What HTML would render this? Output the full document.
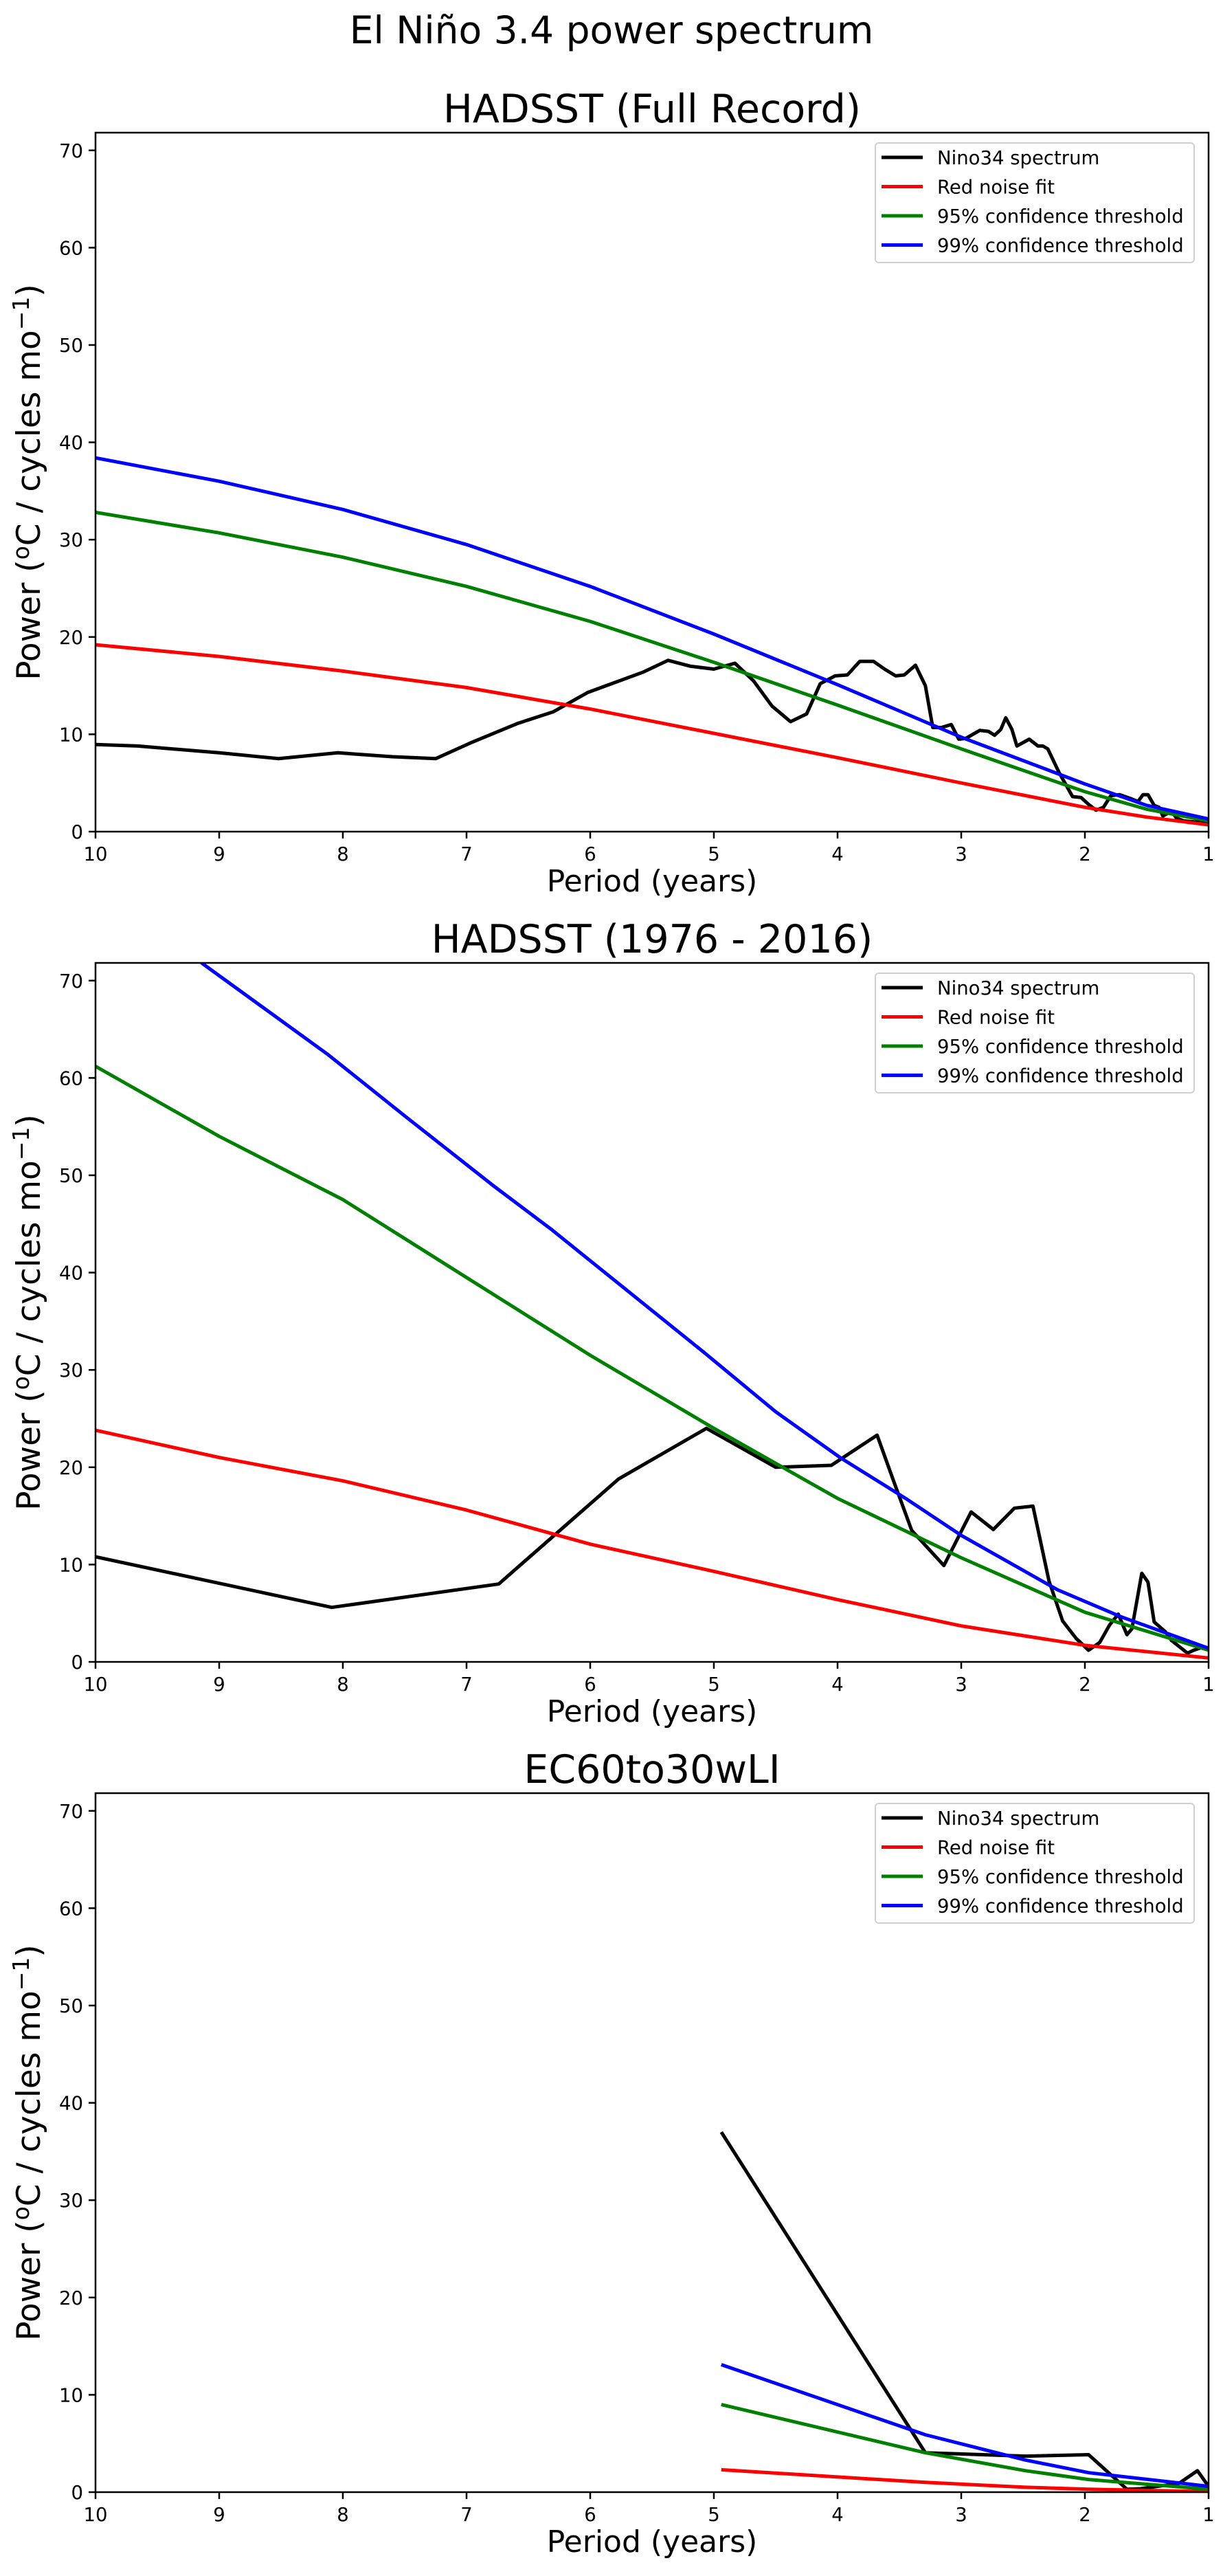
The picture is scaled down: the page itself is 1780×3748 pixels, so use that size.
<!DOCTYPE html>
<html><head><meta charset="utf-8"><style>
html,body{margin:0;padding:0;background:#fff;}
svg{display:block;font-family:"DejaVu Sans","Liberation Sans",sans-serif;}
</style></head><body>
<svg id="fig" xmlns="http://www.w3.org/2000/svg" width="1780" height="3748" viewBox="0 0 1780 3748">
<text x="890" y="63" font-size="55" text-anchor="middle">El Niño 3.4 power spectrum</text>
</svg>
<script>
// ---- data ----
const panelTitles = ["HADSST (Full Record)", "HADSST (1976 - 2016)", "EC60to30wLI"];
const xTicks = [10,9,8,7,6,5,4,3,2,1];
const yTicks = [0,10,20,30,40,50,60,70];
const legendLabels = ["Nino34 spectrum","Red noise fit","95% confidence threshold","99% confidence threshold"];
const seriesColors = ["#000000","#ff0000","#008000","#0000ff"];

// Panel 1
const p1SpecPeriod = [10,9.66,9.0,8.52,8.04,7.6,7.25,6.97,6.59,6.30,6.02,5.57,5.37,5.19,5.0,4.83,4.68,4.53,4.38,4.25,4.14,4.08,4.02,3.92,3.82,3.71,3.62,3.53,3.46,3.37,3.29,3.23,3.16,3.08,3.02,2.96,2.85,2.78,2.73,2.68,2.64,2.59,2.55,2.45,2.38,2.34,2.30,2.21,2.10,2.03,1.97,1.91,1.85,1.79,1.72,1.63,1.57,1.53,1.49,1.44,1.40,1.37,1.30,1.26,1.20,1.12,1.0];
const p1SpecPower = [8.95,8.8,8.1,7.5,8.1,7.7,7.5,9.1,11.1,12.3,14.3,16.4,17.6,17.0,16.7,17.3,15.5,12.9,11.3,12.1,15.2,15.6,16.0,16.1,17.5,17.5,16.7,16.0,16.1,17.1,15.0,10.7,10.7,11.0,9.5,9.6,10.4,10.3,9.9,10.5,11.7,10.5,8.8,9.5,8.8,8.8,8.5,6.1,3.6,3.5,2.8,2.2,2.5,3.7,3.8,3.4,3.1,3.8,3.8,2.7,2.5,1.6,2.1,1.4,1.1,1.0,0.9];
const p1FitPeriod = [10,9,8,7,6,5,4,3,2,1.5,1];
const p1Red = [19.2,18.0,16.5,14.8,12.6,10.1,7.6,5.0,2.5,1.5,0.7];
const p1Green = [32.8,30.7,28.2,25.2,21.6,17.4,13.0,8.5,4.1,2.3,1.1];
const p1Blue = [38.4,36.0,33.1,29.5,25.2,20.3,15.1,9.7,4.9,2.7,1.3];

// Panel 2
const p2SpecPeriod = [10,8.09,6.74,5.77,5.06,4.5,4.05,3.68,3.55,3.40,3.14,2.92,2.74,2.57,2.42,2.29,2.18,2.07,1.97,1.88,1.80,1.73,1.66,1.62,1.54,1.49,1.44,1.35,1.30,1.17,1.12,1.05,1.0];
const p2SpecPower = [10.8,5.6,8.0,18.8,24.0,20.0,20.2,23.3,18.7,13.5,9.9,15.4,13.6,15.8,16.0,8.3,4.2,2.4,1.2,2.0,3.8,4.9,2.8,3.4,9.1,8.2,4.1,3.1,2.2,0.9,1.2,1.5,1.4];
const p2FitPeriod = [10,9,8,7,6,5,4,3,2,1];
const p2Red = [23.8,21.0,18.6,15.6,12.1,9.3,6.4,3.7,1.7,0.4];
const p2Green = [61.2,54.0,47.5,39.5,31.5,24.0,16.8,10.7,5.1,1.2];
const p2BluePeriod = [10,9.14,8.12,7.48,6.78,6.31,5.90,5.08,4.50,3.98,3.45,3.00,2.22,1.70,1.0];
const p2Blue = [82.5,71.8,62.4,55.9,48.9,44.4,40.2,31.8,25.7,21.0,16.8,13.0,7.4,4.6,1.4];

// Panel 3
const p3SpecPeriod = [4.94,3.29,2.48,1.97,1.66,1.55,1.24,1.09,1.0];
const p3SpecPower = [37.0,4.05,3.7,3.85,0.3,0.35,0.9,2.2,0.6];
const p3FitPeriod = [4.94,3.29,2.48,1.97,1.0];
const p3Red = [2.3,1.0,0.5,0.3,0.06];
const p3Green = [9.0,4.05,2.2,1.3,0.3];
const p3Blue = [13.1,5.9,3.3,2.0,0.6];

const panels = [
  {spec:[p1SpecPeriod,p1SpecPower], red:[p1FitPeriod,p1Red], green:[p1FitPeriod,p1Green], blue:[p1FitPeriod,p1Blue]},
  {spec:[p2SpecPeriod,p2SpecPower], red:[p2FitPeriod,p2Red], green:[p2FitPeriod,p2Green], blue:[p2BluePeriod,p2Blue]},
  {spec:[p3SpecPeriod,p3SpecPower], red:[p3FitPeriod,p3Red], green:[p3FitPeriod,p3Green], blue:[p3FitPeriod,p3Blue]}
];

// ---- layout ----
const NS = "http://www.w3.org/2000/svg";
const svg = document.getElementById('fig');
const L = 139, R = 1759, TOP0 = 193, BOT0 = 1210, STEP = 1208;
const XMAX = 10, XMIN = 1, YMAX = 71.82;

function mk(tag, attrs, parent){
  const e = document.createElementNS(NS, tag);
  for (const k in attrs) e.setAttribute(k, attrs[k]);
  (parent||svg).appendChild(e);
  return e;
}

panels.forEach((pd, i) => {
  const top = TOP0 + i*STEP, bot = BOT0 + i*STEP;
  const xs = p => L + (XMAX - p) / (XMAX - XMIN) * (R - L);
  const ys = v => bot - v / YMAX * (bot - top);

  const g = mk('g', {});
  
  

  const cp = mk('clipPath', {id:'clip'+i}, g);
  mk('rect', {x:L, y:top, width:R-L, height:bot-top}, cp);

  const t = mk('text', {x:(L+R)/2, y:top-15, 'font-size':57, 'text-anchor':'middle'}, g);
  t.textContent = panelTitles[i];
  
  

  const series = [pd.spec, pd.red, pd.green, pd.blue];
  const names = ['nino34-spectrum-line','red-noise-fit-line','confidence-95-line','confidence-99-line'];
  series.forEach((s, k) => {
    const pts = s[0].map((p, j) => xs(p).toFixed(1) + ',' + ys(s[1][j]).toFixed(1)).join(' ');
    const pl = mk('polyline', {points:pts, fill:'none', stroke:seriesColors[k], 'stroke-width':5, 'stroke-linejoin':'round', 'clip-path':'url(#clip'+i+')'}, g);
    
    
  });

  const fr = mk('rect', {x:L, y:top, width:R-L, height:bot-top, fill:'none', stroke:'#000', 'stroke-width':2.5}, g);
  
  

  xTicks.forEach(p => {
    const x = xs(p);
    mk('line', {x1:x, y1:bot, x2:x, y2:bot+10, stroke:'#000', 'stroke-width':2.5}, g);
    const tl = mk('text', {x:x, y:bot+42, 'font-size':27.5, 'text-anchor':'middle'}, g);
    tl.textContent = p;
    
    
  });
  yTicks.forEach(v => {
    const y = ys(v);
    mk('line', {x1:L-10, y1:y, x2:L, y2:y, stroke:'#000', 'stroke-width':2.5}, g);
    const tl = mk('text', {x:L-18, y:y+10, 'font-size':27.5, 'text-anchor':'end'}, g);
    tl.textContent = v;
    
    
  });

  const xl = mk('text', {x:(L+R)/2, y:bot+87, 'font-size':44, 'text-anchor':'middle'}, g);
  xl.textContent = 'Period (years)';
  
  

  const cy = (top+bot)/2;
  const yl = mk('text', {x:0, y:0, 'font-size':47, 'text-anchor':'middle', transform:'translate(58,'+cy+') rotate(-90)'}, g);
  
  
  yl.innerHTML = 'Power (<tspan dy="-16" font-size="33">o</tspan><tspan dy="16">C / cycles mo</tspan><tspan dy="-16" font-size="33">−1</tspan><tspan dy="16">)</tspan>';

  const lg = mk('g', {}, g);
  
  
  mk('rect', {x:1274, y:top+15, width:464, height:174, rx:5, fill:'#fff', 'fill-opacity':0.8, stroke:'#d0d0d0', 'stroke-width':2}, lg);
  legendLabels.forEach((lab, k) => {
    const y = top + 36 + k*42.5;
    const ln = mk('line', {x1:1283, y1:y, x2:1343, y2:y, stroke:seriesColors[k], 'stroke-width':5}, lg);
    
    
    const tx = mk('text', {x:1364, y:y+10, 'font-size':27.5}, lg);
    tx.textContent = lab;
    
    
  });
});
</script>
</body></html>
